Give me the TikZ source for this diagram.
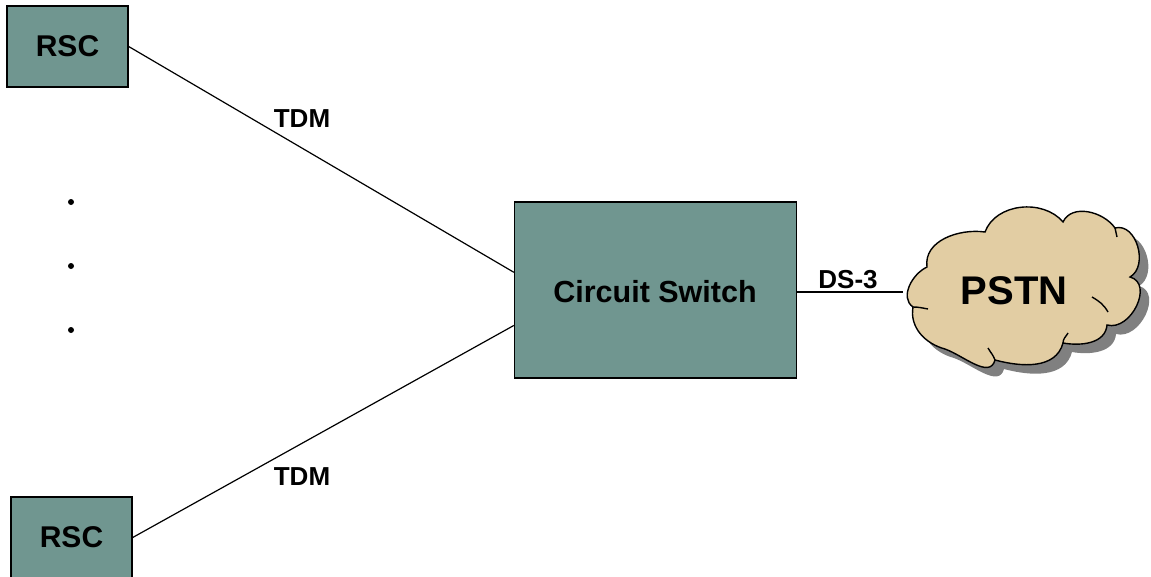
\documentclass[tikz,border=0pt]{standalone}
\usepackage{fontspec}
\setmainfont{Liberation Sans}
\usetikzlibrary{calc}
\definecolor{boxfill}{HTML}{709690}
\definecolor{cloudfill}{HTML}{E2CDA3}
\definecolor{shadowgray}{HTML}{808080}
\tikzset{
  unit/.style={draw=black, line width=1.4pt, fill=boxfill, inner sep=0pt, font=\bfseries},
  link/.style={draw=black, line width=1.2pt},
  lbl/.style={font=\fontsize{26}{28}\selectfont\bfseries, inner sep=0pt},
  dotmark/.style={fill=black, circle, inner sep=0pt, minimum size=6pt},
  crease/.style={line width=1.4pt},
}
\begin{document}
\begin{tikzpicture}[x=1pt,y=-1pt]
\useasboundingbox (0,0) rectangle (1151,576);
% boxes
\node[unit, minimum width=121pt, minimum height=81pt, font=\fontsize{30}{32}\selectfont\bfseries] (rsc1) at (67.5,46.5) {RSC};
\node[unit, minimum width=121pt, minimum height=81pt, font=\fontsize{30}{32}\selectfont\bfseries] (rsc2) at (71.5,537.5) {RSC};
\node[unit, minimum width=282pt, minimum height=176pt] (cs) at (655.5,290) {};
\node[inner sep=0pt, font=\fontsize{30.5}{32}\selectfont\bfseries] (cstext) at (655,292) {Circuit Switch};
% dots
\node[dotmark] (d1) at (71,202) {};
\node[dotmark] (d2) at (71,266) {};
\node[dotmark] (d3) at (71,330) {};
% cloud
\def\cloudpath{
  (927,267) to[out=98,in=172] (985,232)
  to[out=70,in=130] (1063,222)
  to[out=65,in=125] (1115,228)
  to[out=15,in=30,looseness=1.1] (1130,277)
  to[out=345,in=345,looseness=1.2] (1107,325)
  to[out=265,in=350] (1063,343)
  to[out=255,in=345] (995,360)
  to[out=255,in=340] (945,349)
  to[out=165,in=260] (913,307)
  to[out=145,in=205] (927,267) -- cycle}
\fill[shadowgray, shift={(9pt,-9pt)}] \cloudpath;
\filldraw[fill=cloudfill, draw=black, line width=1.4pt] \cloudpath;
\draw[crease] (913,307) to[out=0,in=170] (928,309);
\draw[crease] (995,360) to[out=110,in=300] (988,348);
\draw[crease] (1063,343) to[out=90,in=240] (1068,333);
\draw[crease] (1092,297) to[out=330,in=120] (1108,312);
\draw[crease] (1115,228) to[out=280,in=100] (1117,237);
\node[inner sep=0pt, font=\fontsize{40}{42}\selectfont\bfseries] (pstn) at (1014,291) {PSTN};
\coordinate (cloudin) at (903,292);
% links
\draw[link] (rsc1.east) -- ($(cs.north west)!0.40!(cs.south west)$);
\draw[link] (rsc2.east) -- ($(cs.north west)!0.70!(cs.south west)$);
\draw[link] (cs.east |- cloudin) -- (cloudin);
% labels
\node[lbl] (tdm1) at (302,119) {TDM};
\node[lbl] (tdm2) at (302,477) {TDM};
\node[lbl] (ds3) at (848,280) {DS-3};
\end{tikzpicture}
\end{document}
